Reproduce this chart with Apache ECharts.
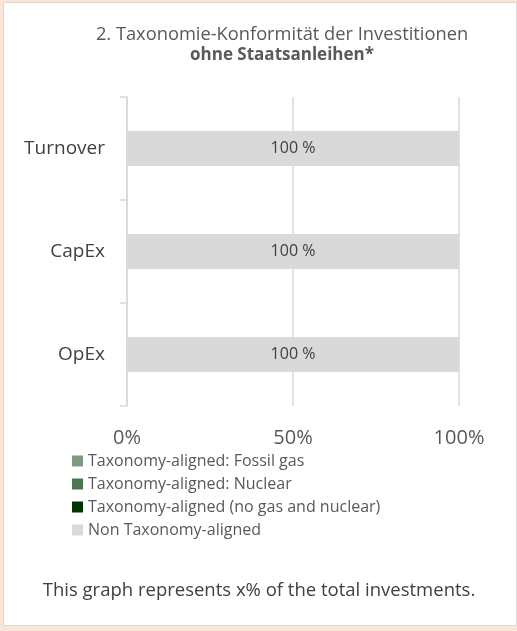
<!DOCTYPE html>
<html>
<head>
<meta charset="utf-8">
<script src="https://cdn.jsdelivr.net/npm/echarts@6/dist/echarts.min.js"></script>
<style>
html,body{margin:0;padding:0;background:#FBE5D6;}
#c{width:517px;height:631px;}
</style>
</head>
<body>
<div id="c"></div>
<script>
var categories = ['Turnover', 'CapEx', 'OpEx'];
var seriesNames = ['Taxonomy-aligned: Fossil gas', 'Taxonomy-aligned: Nuclear', 'Taxonomy-aligned (no gas and nuclear)', 'Non Taxonomy-aligned'];
var fossilGas = [0, 0, 0];
var nuclear = [0, 0, 0];
var alignedOther = [0, 0, 0];
var nonAligned = [100, 100, 100];
var xTicks = [0, 50, 100];
var colors = ['#7F9A82', '#4E7553', '#003300', '#D9D9D9'];
var FONT = 'Open Sans';

var chart = echarts.init(document.getElementById('c'));
var values = [fossilGas, nuclear, alignedOther, nonAligned];
var series = seriesNames.map(function (n, i) {
  return {
    name: n, type: 'bar', stack: 'total', data: values[i], barWidth: '34%',
    itemStyle: { color: colors[i] },
    label: i === 3 ? { show: true, position: 'inside', formatter: '{c} %', color: '#404040', fontSize: 16, fontFamily: FONT } : { show: false }
  };
});
chart.setOption({
  backgroundColor: '#FBE5D6',
  animation: false,
  graphic: [{ type: 'rect', z: -10, shape: { x: 3.5, y: 2.5, width: 513, height: 623 }, style: { fill: '#FFFFFF', stroke: '#D9D9D9', lineWidth: 1 } }],
  title: [{
    left: 277, top: 20, textAlign: 'center',
    text: '{a|2. Taxonomie-Konformität der Investitionen}\n{b|ohne Staatsanleihen*}',
    textStyle: { rich: {
      a: { fontFamily: FONT, fontSize: 18.3, fontWeight: 'normal', color: '#595959', lineHeight: 20 },
      b: { fontFamily: FONT, fontSize: 17, fontWeight: 'bold', color: '#595959', lineHeight: 20 }
    } }
  }, {
    left: 254, top: 574, textAlign: 'center',
    text: 'This graph represents x% of the total investments.',
    textStyle: { fontFamily: FONT, fontSize: 18.5, lineHeight: 24, fontWeight: 'normal', color: '#404040' }
  }],
  legend: {
    orient: 'vertical', left: 72, top: 453, padding: 0, itemWidth: 11, itemHeight: 11, itemGap: 7,
    icon: 'rect', selectedMode: false,
    textStyle: { fontFamily: FONT, fontSize: 16, color: '#595959', lineHeight: 16 },
    data: seriesNames
  },
  grid: { left: 127, right: 58, top: 97, bottom: 225, containLabel: false },
  xAxis: {
    type: 'value', min: 0, max: 100, interval: 50,
    axisLine: { show: false }, axisTick: { show: false },
    splitLine: { show: true, lineStyle: { color: '#D9D9D9', width: 1.5 } },
    axisLabel: { formatter: function (v) { return v + '%'; }, fontFamily: FONT, fontSize: 20, color: '#595959', margin: 22 }
  },
  yAxis: {
    type: 'category', data: categories, inverse: true,
    axisLine: { show: true, lineStyle: { color: '#D9D9D9', width: 1.5 } },
    axisTick: { show: true, length: 7, lineStyle: { color: '#D9D9D9', width: 1.5 } },
    axisLabel: { fontFamily: FONT, fontSize: 19, color: '#404040', margin: 22 }
  },
  series: series
});
</script>
</body>
</html>
